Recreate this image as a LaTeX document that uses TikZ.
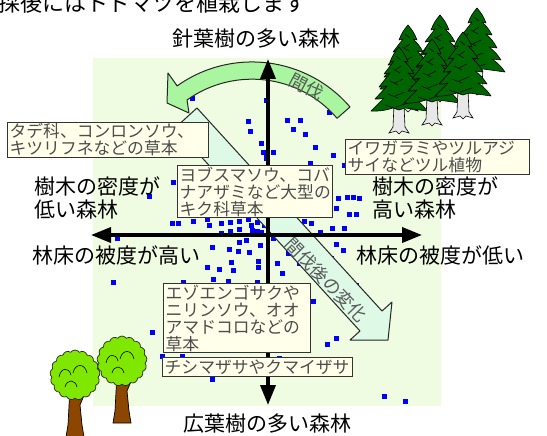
\documentclass[tikz,border=0pt]{standalone}
\usepackage{fontspec}
\setmainfont{Noto Sans CJK JP}
\usetikzlibrary{positioning,arrows.meta,calc,shapes.symbols}

\definecolor{standgreen}{RGB}{240,252,226}
\definecolor{thinarc}{RGB}{170,245,160}
\definecolor{shiftmint}{RGB}{222,250,230}
\definecolor{memofill}{RGB}{255,255,234}
\definecolor{needle}{RGB}{0,100,0}
\definecolor{leaf}{RGB}{128,232,0}
\definecolor{bark}{RGB}{140,70,0}
\definecolor{birch}{RGB}{232,232,232}

\tikzset{
  memo/.style={draw=black!80, line width=1.3pt, fill=memofill, text=black!70,
    anchor=north west, inner xsep=2pt, inner ysep=1pt, align=left,
    font=\fontsize{16.8}{17}\selectfont},
  axislabel/.style={inner sep=0pt, align=left, font=\fontsize{21}{23}\selectfont},
  axisline/.style={line width=3.6pt, >={Triangle[length=20pt,width=15pt]}},
  blockarrow/.style={draw=black!85, line width=1pt, line join=round},
  arrowtext/.style={text=black!65, inner sep=0pt, font=\fontsize{18}{18}\selectfont},
  quadrat/.style={fill=blue, minimum size=5pt, inner sep=0pt},
  pics/conifer/.style={code={
    \draw[fill=birch, line width=0.6pt] (-5,58) -- (-6,80) -- (-10,86) -- (-3,84) -- (0,87)
      -- (3,84) -- (10,86) -- (6,80) -- (5,58) -- cycle;
    \draw[fill=needle, line width=0.6pt, line join=round]
      (0,0) to[bend left=10] (9,15) -- (5,14) to[bend left=10] (15,27) -- (9,26) to[bend left=10] (20,40)
      -- (12,39) to[bend left=10] (24,52) -- (15,51) to[bend left=10] (28,64) -- (6,61) -- (0,63)
      -- (-6,61) to[bend left=10] (-28,64) -- (-15,51) to[bend left=10] (-24,52) -- (-12,39)
      to[bend left=10] (-20,40) -- (-9,26) to[bend left=10] (-15,27) -- (-5,14) to[bend left=10] (-9,15)
      to[bend left=10] cycle;
    \foreach \a/\b/\c in {-3/9/5, 2/19/-6, -6/22/7, 4/32/-8, -9/34/8, 6/45/-10, -11/47/10, 9/56/-12, -14/58/12}
      \draw[line width=0.5pt] (\a,\b) -- ++(\c,4);
  }},
  pics/broadleaf/.style={code={
    \draw[fill=bark, line width=0.7pt] (-5,12) -- (-7,50) -- (-9,62) -- (9,62) -- (7,50)
      -- (5,30) -- (10,18) -- (8,16) -- (4,24) -- (4,12) -- cycle;
    \node[cloud, cloud puffs=17, cloud puff arc=110, aspect=1, draw=black!85, line width=0.7pt,
      fill=leaf, minimum width=50pt, minimum height=50pt, inner sep=0pt] (crown) at (0,0) {};
    \draw[line width=0.6pt] (-16,2) .. controls (-14,-8) and (-6,-8) .. (-4,0);
    \draw[line width=0.6pt] (-2,-2) .. controls (0,-12) and (10,-12) .. (12,-2);
    \draw[line width=0.6pt] (-10,12) .. controls (-8,4) and (0,4) .. (2,12);
  }}
}

\begin{document}
\begin{tikzpicture}[x=1pt,y=-1pt]
	\clip (0,0) rectangle (547,436);
	\fill[standgreen] (93,58) rectangle (441,406);
	\foreach \x/\y [count=\i] in {192/99, 266/101, 248/122, 250/132, 287/121, 300/121, 293/130, 305/135,
		329/113, 261/144, 263/153, 273/153, 266/158, 315/148, 333/156, 310/163, 344/165, 173/182,
		149/196, 338/198, 347/197, 353/197, 359/198, 336/208, 349/214, 356/214, 304/221, 311/223,
		332/228, 344/228, 296/233, 305/233, 320/232, 172/223, 178/223, 193/221, 207/219, 209/225,
		221/223, 230/222, 239/221, 248/219, 251/225, 257/222, 264/225, 239/229, 230/231, 221/233,
		252/230, 257/231, 261/232, 117/238, 273/238, 239/242, 246/240, 260/245, 212/247, 229/249,
		238/251, 249/252, 258/261, 231/262, 207/267, 219/269, 233/270, 258/267, 213/279, 228/281,
		257/282, 183/282, 277/263, 282/273, 288/253, 299/263, 316/247, 316/257, 331/258, 343/250,
		336/244, 113/282, 313/301, 356/285, 327/344, 336/338, 152/332, 162/356, 182/356, 212/379,
		279/358, 384/396, 405/401}
		\node[quadrat] (q\i) at (\x,\y) {};
	\draw[blockarrow, fill=thinarc] (350,107) arc[start angle=-40.6, end angle=-125.5, radius=129]
		-- (168,73) -- (167,103) -- (189,113) -- (187,100)
		arc[start angle=-125.5, end angle=-40.6, radius=112] -- cycle;
	\node[arrowtext, rotate=-28] (thinlabel) at (307,87) {間伐};
	\draw[blockarrow, fill=shiftmint] (197,108) -- (382,311) -- (392,302) -- (388,340)
		-- (350,340) -- (360,331) -- (175,128) -- cycle;
	\node[arrowtext, rotate=-46] (shiftlabel) at (326,280) {間伐後の変化};
	\coordinate (floorhigh) at (91,235);
	\coordinate (floorlow) at (422,235);
	\coordinate (needleend) at (268,59);
	\coordinate (broadend) at (268,405);
	\draw[axisline,<->] (floorhigh) -- (floorlow);
	\draw[axisline,<->] (needleend) -- (broadend);
	\node[memo, text width=197pt, minimum height=33pt] (tade) at (7,122) {タデ科、コンロンソウ、\\キツリフネなどの草本};
	\node[memo, text width=151pt, minimum height=51pt] (kiku) at (177,165) {ヨブスマソウ、コバ\\ナアザミなど大型の\\キク科草本};
	\node[memo, text width=180pt, minimum height=35pt] (tsuru) at (345,139) {イワガラミやツルアジ\\サイなどツル植物};
	\node[memo, text width=143pt, minimum height=69pt] (ezo) at (163,283) {エゾエンゴサクや\\ニリンソウ、オオ\\アマドコロなどの\\草本};
	\node[memo, text width=186pt, minimum height=19pt] (sasa) at (162,357) {チシマザサやクマイザサ};
	\node[axislabel, anchor=base] (needlelabel) at (256,46.5) {針葉樹の多い森林};
	\node[axislabel, anchor=base] (broadlabel) at (267.5,431.5) {広葉樹の多い森林};
	\node[axislabel, anchor=north west] (sparselabel) at (34,177) {樹木の密度が\\低い森林};
	\node[axislabel, anchor=north west] (denselabel) at (372,177) {樹木の密度が\\高い森林};
	\node[axislabel, anchor=base west] (coverhigh) at (32,263.5) {林床の被度が高い};
	\node[axislabel, anchor=base west] (coverlow) at (356,263.5) {林床の被度が低い};
	\node[axislabel, anchor=base west, font=\fontsize{22}{22}\selectfont] (banner) at (-2,12) {採後にはトドマツを植栽します};
	\pic (firA) at (408,25) {conifer};
	\pic (firB) at (440,15) {conifer};
	\pic (firC) at (477,8) {conifer};
	\pic (firD) at (399,47) {conifer};
	\pic (firE) at (432,39) {conifer};
	\pic (firF) at (463,32) {conifer};
	\pic (oakA) at (75,375) {broadleaf};
	\pic (oakB) at (122,361) {broadleaf};
\end{tikzpicture}
\end{document}
